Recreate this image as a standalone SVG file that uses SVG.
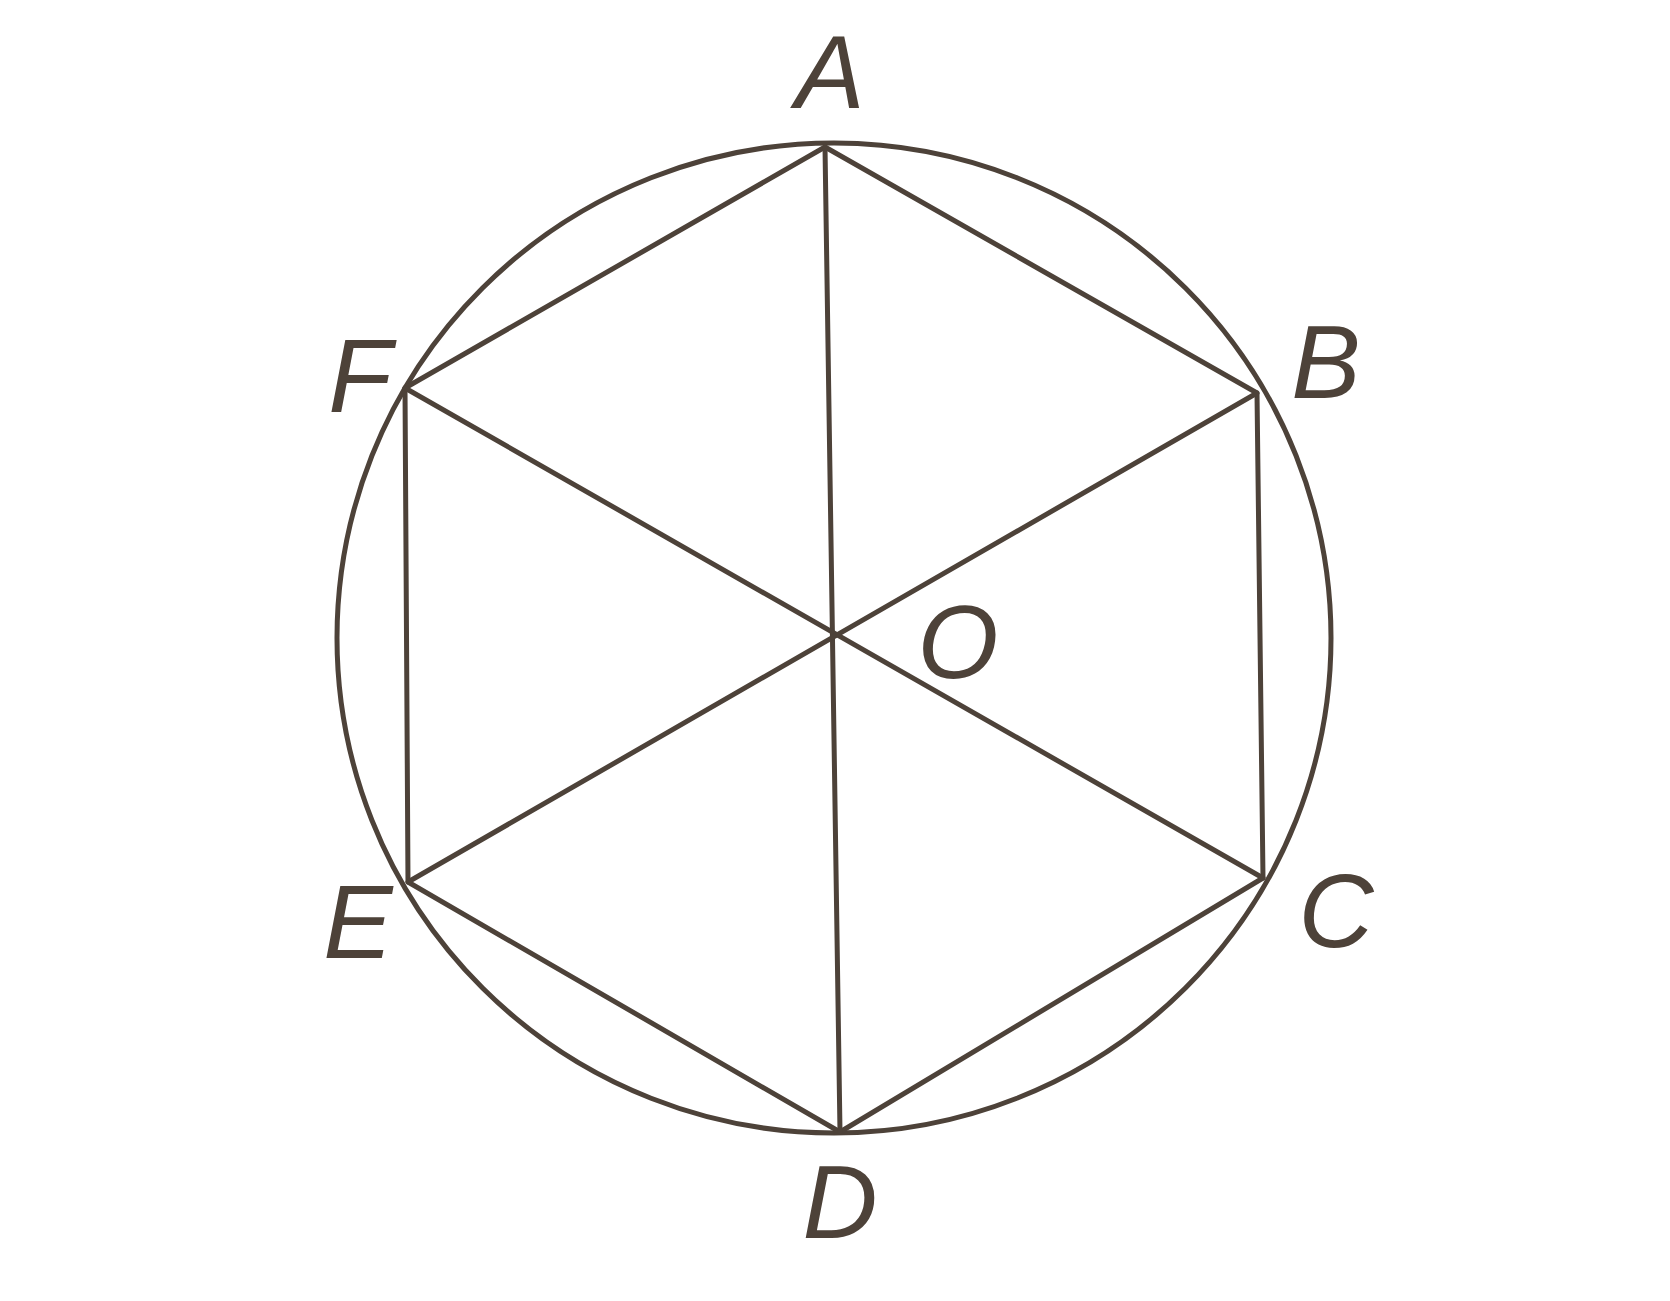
<svg xmlns="http://www.w3.org/2000/svg" width="1670" height="1301" viewBox="0 0 1670 1301">
<style>
.ln{stroke:#4d4239;stroke-width:5;fill:none;stroke-linecap:round;stroke-linejoin:round}
.lb{font-family:"Liberation Sans","DejaVu Sans",sans-serif;font-style:italic;font-size:104px;fill:#4d4239;text-anchor:middle}
</style>
<rect width="1670" height="1301" fill="#ffffff"/>
<g id="circle"><ellipse class="ln" cx="834" cy="638" rx="497" ry="495"/></g>
<g id="connectors">
<polygon class="ln" points="825,147 1257,393 1263,878 840,1132 408,882 405,388"/>
<line class="ln" x1="825" y1="147" x2="840" y2="1132"/>
<line class="ln" x1="405" y1="388" x2="1263" y2="878"/>
<line class="ln" x1="1257" y1="393" x2="408" y2="882"/>
</g>
<g id="A"><text class="lb" x="830" y="108">A</text></g>
<g id="B"><text class="lb" x="1326" y="398">B</text></g>
<g id="C"><text class="lb" x="1336" y="947">C</text></g>
<g id="D"><text class="lb" x="840" y="1238">D</text></g>
<g id="E"><text class="lb" x="358" y="958">E</text></g>
<g id="F"><text class="lb" x="360" y="412">F</text></g>
<g id="O"><text class="lb" x="958" y="678">O</text></g>
</svg>
